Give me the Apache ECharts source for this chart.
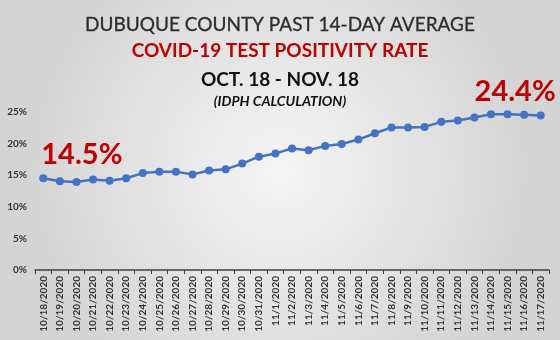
<!DOCTYPE html>
<html><head><meta charset="utf-8">
<script src="https://cdn.jsdelivr.net/npm/echarts@6/dist/echarts.min.js"></script>
<style>html,body{margin:0;padding:0;}#c{width:560px;height:340px;}</style>
</head><body><div id="c"></div>
<script>
const categories = ['10/18/2020','10/19/2020','10/20/2020','10/21/2020','10/22/2020','10/23/2020','10/24/2020','10/25/2020','10/26/2020','10/27/2020','10/28/2020','10/29/2020','10/30/2020','10/31/2020','11/1/2020','11/2/2020','11/3/2020','11/4/2020','11/5/2020','11/6/2020','11/7/2020','11/8/2020','11/9/2020','11/10/2020','11/11/2020','11/12/2020','11/13/2020','11/14/2020','11/15/2020','11/16/2020','11/17/2020'];
const positivity = [14.5,14.0,13.9,14.3,14.1,14.5,15.3,15.5,15.5,15.1,15.7,15.9,16.8,17.9,18.4,19.2,18.9,19.6,19.9,20.6,21.6,22.5,22.5,22.6,23.4,23.6,24.1,24.6,24.6,24.5,24.4];
const yTicks = [0,5,10,15,20,25];
const titles = ['DUBUQUE COUNTY PAST 14-DAY AVERAGE','COVID-19 TEST POSITIVITY RATE','OCT. 18 - NOV. 18','(IDPH CALCULATION)'];

const chart = echarts.init(document.getElementById('c'), null, {renderer:'canvas'});
const font = 'Lato, "Open Sans", sans-serif';
const lastIdx = positivity.length - 1;
const seriesData = positivity.map((v,i) => {
  if (i === 0) return {value:v, label:{show:true, position:'top', align:'left', offset:[-2,0], formatter:'{c}%', color:'#c00000', fontSize:29, fontWeight:'bold', fontFamily:font}};
  if (i === lastIdx) return {value:v, label:{show:true, position:'top', align:'right', offset:[15,0], formatter:'{c}%', color:'#c00000', fontSize:29, fontWeight:'bold', fontFamily:font}};
  return v;
});
chart.setOption({
  backgroundColor: {type:'radial', x:0.5, y:0.5, r:0.75, colorStops:[{offset:0,color:'#f5f5f5'},{offset:1,color:'#d4d4d4'}]},
  title: [
    {text:titles[0], left:'center', top:10, textStyle:{fontFamily:font, fontSize:19, fontWeight:'normal', color:'#2e2e2e', textBorderColor:'#2e2e2e', textBorderWidth:0.3}},
    {text:titles[1], left:'center', top:36, textStyle:{fontFamily:font, fontSize:19, fontWeight:'bold', color:'#c00000'}},
    {text:titles[2], left:'center', top:65, textStyle:{fontFamily:font, fontSize:19, fontWeight:'bold', color:'#111111'}},
    {text:titles[3], left:'center', top:89, textStyle:{fontFamily:font, fontSize:14, fontWeight:'bold', fontStyle:'italic', color:'#111111'}}
  ],
  grid: {left:35, right:11, top:111.7, bottom:70, containLabel:false},
  xAxis: {
    type:'category', data:categories, boundaryGap:true,
    axisLine:{lineStyle:{color:'#404040', width:1.5}},
    axisTick:{show:true, alignWithLabel:false, length:4, lineStyle:{color:'#404040'}},
    axisLabel:{rotate:90, interval:0, fontFamily:font, fontSize:10, fontWeight:'bold', color:'#333333', margin:6}
  },
  yAxis: {
    type:'value', min:0, max:25, interval:5,
    axisLine:{show:false}, axisTick:{show:false}, splitLine:{show:false},
    axisLabel:{formatter: v => v + '%', fontFamily:font, fontSize:10, fontWeight:'bold', color:'#333333', margin:8}
  },
  series: [{
    type:'line', data:seriesData, symbol:'circle', symbolSize:8,
    itemStyle:{color:'#4472c4'}, lineStyle:{color:'#4472c4', width:2.5},
    animation:false
  }],
  animation:false
});
</script></body></html>
